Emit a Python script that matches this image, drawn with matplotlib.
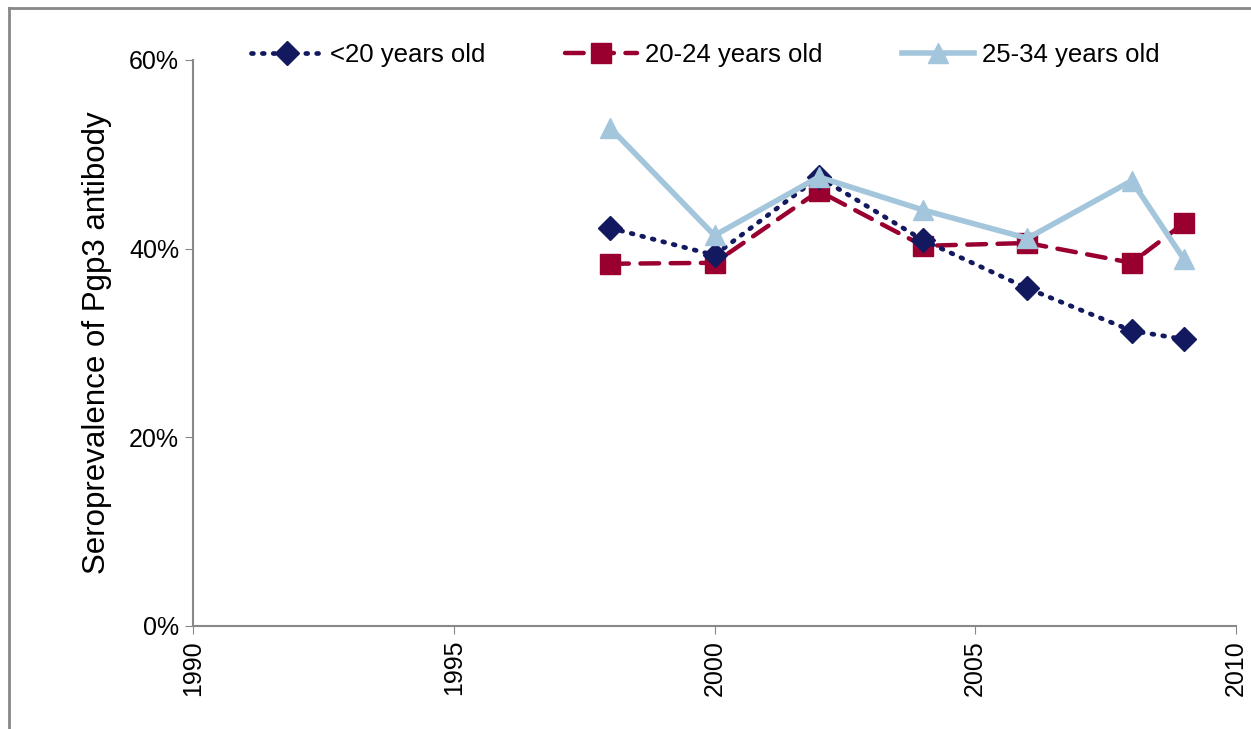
import matplotlib
matplotlib.use("Agg")
import matplotlib.pyplot as plt
from matplotlib.ticker import FuncFormatter
from matplotlib.lines import Line2D

plt.rcParams['font.family'] = ['Liberation Sans', 'DejaVu Sans']

years = [1998, 2000, 2002, 2004, 2006, 2008, 2009]
under20 = [0.422, 0.393, 0.476, 0.409, 0.358, 0.313, 0.304]
age20_24 = [0.384, 0.385, 0.461, 0.403, 0.406, 0.385, 0.427]
age25_34 = [0.528, 0.414, 0.476, 0.441, 0.411, 0.472, 0.389]
labels = ['<20 years old', '20-24 years old', '25-34 years old']

fig = plt.figure(figsize=(12.51, 7.29), dpi=100)
ax = fig.add_axes([0.1543, 0.1413, 0.8337, 0.7764])

l1, = ax.plot(years, under20, color='#13195E', linestyle=(0, (0.4, 1.9)), linewidth=3.4,
              dash_capstyle='round', marker='D', markersize=12, label=labels[0], zorder=3)
l2, = ax.plot(years, age20_24, color='#990030', linestyle=(0, (4.2, 2.6)), linewidth=3.2,
              dash_capstyle='round', marker='s', markersize=14, label=labels[1], zorder=2)
l3, = ax.plot(years, age25_34, color='#A3C6DC', linestyle='-', linewidth=4,
              marker='^', markersize=15, label=labels[2], zorder=4)

ax.set_xlim(1990, 2010)
ax.set_ylim(0, 0.6)
ax.set_xticks([1990, 1995, 2000, 2005, 2010])
ax.set_yticks([0, 0.2, 0.4, 0.6])
ax.yaxis.set_major_formatter(FuncFormatter(lambda v, p: f"{v*100:.0f}%"))
ax.tick_params(axis='x', labelrotation=90, labelsize=18, length=6, color='#888888', pad=4)
ax.tick_params(axis='y', labelsize=18, length=6, color='#888888', pad=4)
for s in ['top', 'right']:
    ax.spines[s].set_visible(False)
for s in ['left', 'bottom']:
    ax.spines[s].set_color('#888888')
    ax.spines[s].set_linewidth(1.5)

ax.set_ylabel('Seroprevalence of Pgp3 antibody', fontsize=22.5, labelpad=12)

fig.legend(handles=[l1, l2, l3], loc='center', bbox_to_anchor=(0.5636, 0.925), ncol=3,
           frameon=False, fontsize=18.5, columnspacing=3.1, handlelength=2.8, handletextpad=0.3)

# rahmen (nur oben und links sichtbar)
fig.add_artist(Line2D([0.0068, 1.0], [0.9897, 0.9897], transform=fig.transFigure,
                      color='#888888', linewidth=2))
fig.add_artist(Line2D([0.0068, 0.0068], [0.0, 0.9897], transform=fig.transFigure,
                      color='#888888', linewidth=2))

fig.savefig('out.png', dpi=100)
